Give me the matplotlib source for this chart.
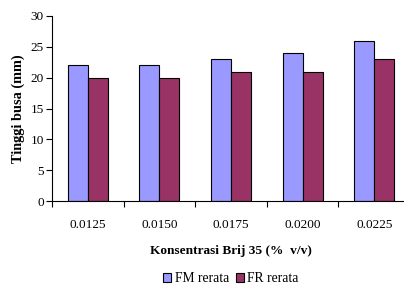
import matplotlib
matplotlib.use("Agg")
import matplotlib.pyplot as plt
import numpy as np

categories = ["0.0125", "0.0150", "0.0175", "0.0200", "0.0225"]
fm_rerata = [22, 22, 23, 24, 26]
fr_rerata = [20, 20, 21, 21, 23]

plt.rcParams["font.family"] = ["Liberation Serif", "DejaVu Serif"]

W, H = 404, 285
fig = plt.figure(figsize=(W / 100, H / 100), dpi=100)
# axes right edge runs slightly past the figure, as in the source image
ax = fig.add_axes([52 / W, (H - 201) / H, 358 / W, 185 / H])

x = np.arange(len(categories))
width = 0.28
ax.bar(x - width / 2, fm_rerata, width, color="#9999FF", edgecolor="black",
       linewidth=0.8, label="FM rerata")
ax.bar(x + width / 2, fr_rerata, width, color="#993366", edgecolor="black",
       linewidth=0.8, label="FR rerata")

ax.set_xlim(-0.5, len(categories) - 0.5)
ax.set_ylim(0, 30)
ax.set_yticks(range(0, 31, 5))
ax.tick_params(axis="y", labelsize=9.5, length=4, width=0.8, pad=2)

ax.set_xticks(x, categories)
ax.set_xticks(np.arange(len(categories) + 1) - 0.5, minor=True)
ax.tick_params(axis="x", which="major", length=0, labelsize=9.5, pad=13)
ax.tick_params(axis="x", which="minor", length=4, width=0.8)

for side in ("top", "right"):
    ax.spines[side].set_visible(False)
for side in ("left", "bottom"):
    ax.spines[side].set_linewidth(0.8)

ax.set_ylabel("Tinggi busa (mm)", fontsize=10.3, fontweight="bold", labelpad=4)
ax.set_xlabel("Konsentrasi Brij 35 (%  v/v)", fontsize=9.6, fontweight="bold",
              labelpad=10)

fig.legend(loc="center", bbox_to_anchor=(231 / W, 1 - 279 / H), ncol=2,
           frameon=False, fontsize=9.8, handlelength=0.6, handleheight=0.6,
           handletextpad=0.25, columnspacing=0.5, borderpad=0)

fig.savefig("out.png", dpi=100)
